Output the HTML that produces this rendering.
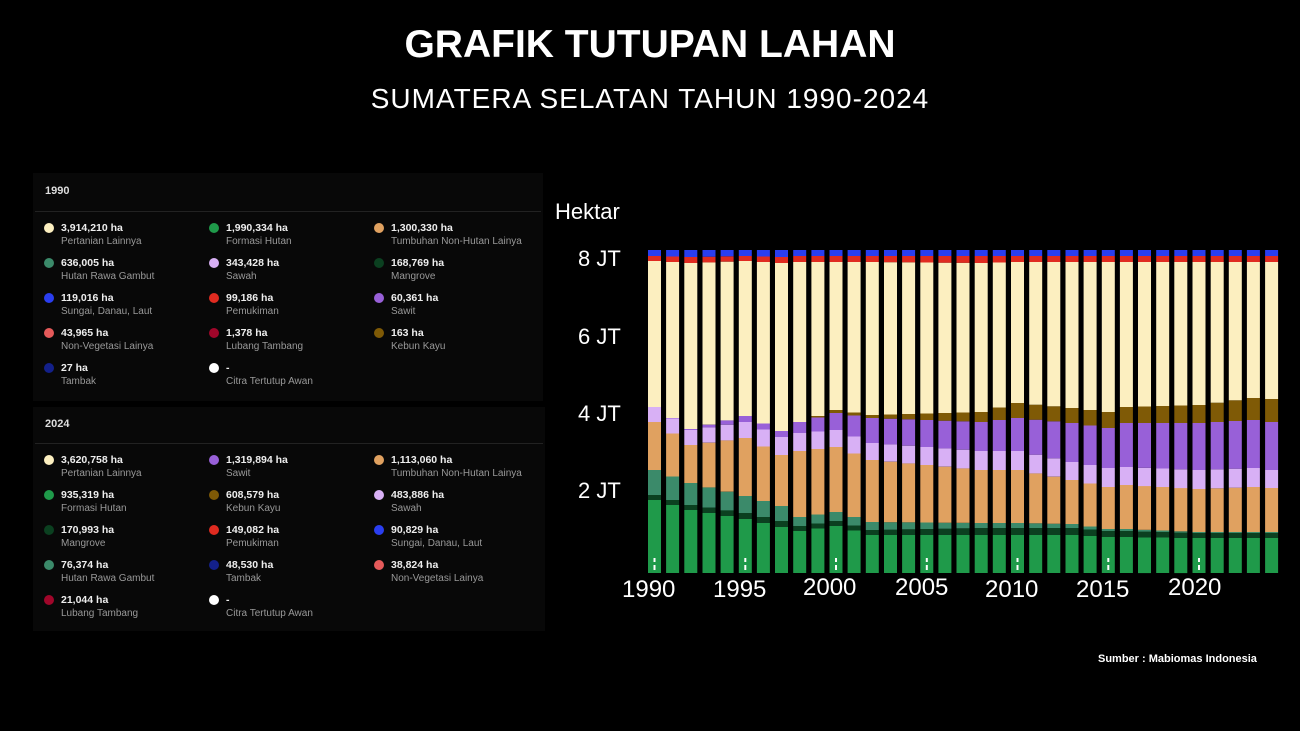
<!DOCTYPE html><html><head><style>
body{margin:0;width:1300px;height:731px;background:#000;overflow:hidden;font-family:"Liberation Sans",sans-serif;color:#fff;position:relative}
.a{position:absolute;white-space:nowrap}
.panel{position:absolute;background:#080808}
.it{position:absolute;font-size:10px;line-height:14px}
.it b{display:block;font-size:10.5px;color:#eee}
.it span{color:#999}
.dot{position:absolute;left:-17px;top:2px;width:10px;height:10px;border-radius:50%}
</style></head><body>
<div class="a" style="left:0;width:1300px;text-align:center;top:23px;font-size:39px;font-weight:bold">GRAFIK TUTUPAN LAHAN</div>
<div class="a" style="left:0;width:1300px;text-align:center;top:83px;font-size:28px;letter-spacing:1px">SUMATERA SELATAN TAHUN 1990-2024</div>
<div class="panel" style="left:33px;top:173px;width:510px;height:228px"></div>
<div class="panel" style="left:33px;top:407px;width:512px;height:224px"></div>
<div class="a" style="left:45px;top:185px;font-size:11px;font-weight:bold;color:#ddd">1990</div>
<div class="a" style="left:35px;top:211px;width:506px;height:1px;background:#222"></div>
<div class="a" style="left:45px;top:418px;font-size:11px;font-weight:bold;color:#ddd">2024</div>
<div class="a" style="left:35px;top:443px;width:508px;height:1px;background:#222"></div>
<div id="leg"></div>
<svg class="a" style="left:0;top:0" width="1300" height="731" id="ch"></svg>
<div class="a" style="left:555px;top:199px;font-size:22px">Hektar</div>
<div class="a" style="left:578px;top:246px;font-size:22px">8 JT</div>
<div class="a" style="left:578px;top:324px;font-size:22px">6 JT</div>
<div class="a" style="left:578px;top:401px;font-size:22px">4 JT</div>
<div class="a" style="left:578px;top:478px;font-size:22px">2 JT</div>
<div class="a" style="left:622px;top:576px;font-size:24px">1990</div>
<div class="a" style="left:713px;top:576px;font-size:24px">1995</div>
<div class="a" style="left:803px;top:574px;font-size:24px">2000</div>
<div class="a" style="left:895px;top:574px;font-size:24px">2005</div>
<div class="a" style="left:985px;top:576px;font-size:24px">2010</div>
<div class="a" style="left:1076px;top:576px;font-size:24px">2015</div>
<div class="a" style="left:1168px;top:574px;font-size:24px">2020</div>
<div class="a" style="left:1098px;top:653px;font-size:11px;font-weight:bold">Sumber : Mabiomas Indonesia</div>
<script>
(function(){
var L1=[["#fcefc0","3,914,210 ha","Pertanian Lainnya"],["#1f9a4a","1,990,334 ha","Formasi Hutan"],["#e0a160","1,300,330 ha","Tumbuhan Non-Hutan Lainya"],
["#3b8a6a","636,005 ha","Hutan Rawa Gambut"],["#d8b0f5","343,428 ha","Sawah"],["#0b4020","168,769 ha","Mangrove"],
["#2a3ef0","119,016 ha","Sungai, Danau, Laut"],["#e02b20","99,186 ha","Pemukiman"],["#9860d8","60,361 ha","Sawit"],
["#e55a5a","43,965 ha","Non-Vegetasi Lainya"],["#a0062a","1,378 ha","Lubang Tambang"],["#7f5a06","163 ha","Kebun Kayu"],
["#13208a","27 ha","Tambak"],["#ffffff","-","Citra Tertutup Awan"]];
var L2=[["#fcefc0","3,620,758 ha","Pertanian Lainnya"],["#9860d8","1,319,894 ha","Sawit"],["#e0a160","1,113,060 ha","Tumbuhan Non-Hutan Lainya"],
["#1f9a4a","935,319 ha","Formasi Hutan"],["#7f5a06","608,579 ha","Kebun Kayu"],["#d8b0f5","483,886 ha","Sawah"],
["#0b4020","170,993 ha","Mangrove"],["#e02b20","149,082 ha","Pemukiman"],["#2a3ef0","90,829 ha","Sungai, Danau, Laut"],
["#3b8a6a","76,374 ha","Hutan Rawa Gambut"],["#13208a","48,530 ha","Tambak"],["#e55a5a","38,824 ha","Non-Vegetasi Lainya"],
["#a0062a","21,044 ha","Lubang Tambang"],["#ffffff","-","Citra Tertutup Awan"]];
var h="";
function leg(L,y0){L.forEach(function(e,i){var x=[61,226,391][i%3],y=y0+Math.floor(i/3)*35;
h+='<div class="it" style="left:'+x+'px;top:'+y+'px"><i class="dot" style="background:'+e[0]+'"></i><b>'+e[1]+'</b><span>'+e[2]+'</span></div>';});}
leg(L1,221);leg(L2,453);document.getElementById("leg").innerHTML=h;
var A={1990:[500,495,470,422,407,407,407,261,256,250],1992:[510,505,483,445,430,429,429,263,257,250],
1995:[519,513,496,438,422,416,416,261,256,250],1997:[527,521,506,455,437,431,431,263,257,250],
1998:[531,526,517,451,433,422,422,262,256,250],2000:[526,521,512,447,430,413,410,262,256,250],
2002:[535,530,522,460,443,418,415,262,256,250],2008:[535,528,523,470,451,422,412,263,256,250],
2010:[535,528,523,470,451,418,403,262,256,250],2013:[535,528,524,480,462,423,408,262,256,250],
2015:[537,531,529,487,468,428,412,262,256,250],2016:[537,531,529,485,467,423,407,262,256,250],
2020:[538,533,532,489,470,423,405,262,256,250],2023:[538,533,532,487,468,420,398,262,256,250],
2024:[538,533,532,488,470,422,399,262,256,250]};
var ks=Object.keys(A).map(Number);
var C=["#1f9a4a","#0b4020","#3b8a6a","#e0a160","#d8b0f5","#9860d8","#7f5a06","#fcefc0","#e02b20","#2a3ef0"];
var s="";
for(var i=0;i<35;i++){var yr=1990+i,k=0;while(k<ks.length-2&&ks[k+1]<=yr)k++;
var a=ks[k],b=ks[k+1],t=(yr-a)/(b-a),T=A[a].map(function(v,j){return v+(A[b][j]-v)*t});
var x=648+i*18.15,bot=573;
for(var j=0;j<10;j++){var tp=T[j];if(bot-tp>0.3)s+='<rect x="'+x.toFixed(1)+'" y="'+tp.toFixed(1)+'" width="13" height="'+(bot-tp).toFixed(1)+'" fill="'+C[j]+'"/>';bot=tp;}
if(i%5==0)s+='<rect x="'+(x+5.5).toFixed(1)+'" y="558" width="2" height="4" fill="#fff"/><rect x="'+(x+5.5).toFixed(1)+'" y="565" width="2" height="5" fill="#fff"/>';}
document.getElementById("ch").innerHTML=s;
})();
</script>
</body></html>
